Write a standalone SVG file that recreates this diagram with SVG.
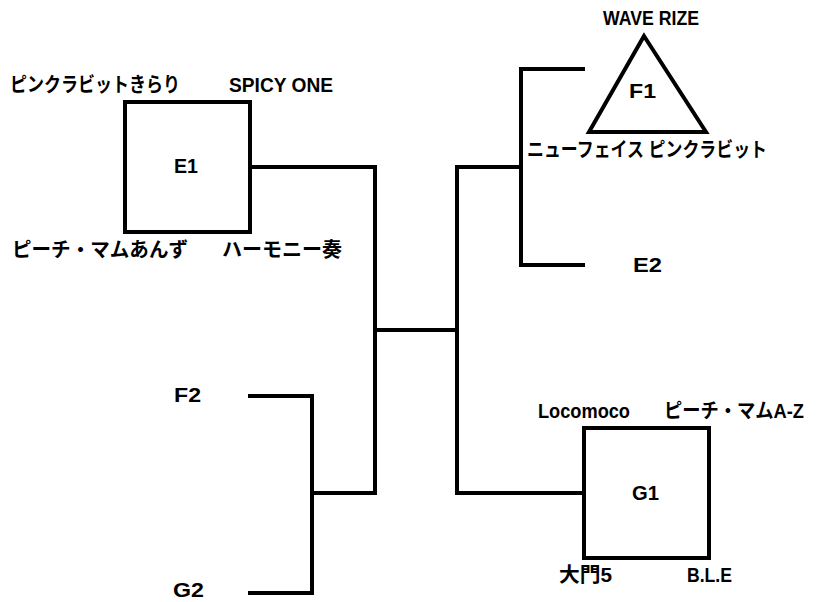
<svg xmlns="http://www.w3.org/2000/svg" width="818" height="602" viewBox="0 0 818 602">
<style>
.ln{fill:none;stroke:#000;stroke-width:4;stroke-linecap:square}
.shape{fill:#fff;stroke:#000;stroke-width:4}
text{font-family:"Liberation Sans","Noto Sans CJK JP",sans-serif;font-weight:bold;font-size:20px;fill:#000}
</style>
<rect width="818" height="602" fill="#fff"/>
<g id="connectors">
<path class="ln" d="M250,167 H375 V493 H313"/>
<path class="ln" d="M375,330 H457"/>
<path class="ln" d="M457,167 V493 H584"/>
<path class="ln" d="M457,167 H521"/>
<path class="ln" d="M583,69 H521 V265 H583"/>
<path class="ln" d="M250,396 H312 V593 H250"/>
</g>
<g id="E1">
<rect class="shape" x="125" y="102" width="125" height="130"/>
<text x="174" y="173" textLength="24" lengthAdjust="spacingAndGlyphs">E1</text>
<text x="10" y="92" textLength="170" lengthAdjust="spacingAndGlyphs">ピンクラビットきらり</text>
<text x="229" y="92" textLength="104" lengthAdjust="spacingAndGlyphs">SPICY ONE</text>
<text x="12" y="257" textLength="176" lengthAdjust="spacingAndGlyphs">ピーチ・マムあんず</text>
<text x="222" y="257" textLength="120" lengthAdjust="spacingAndGlyphs">ハーモニー奏</text>
</g>
<g id="F1">
<polygon class="shape" points="644,36 589,132 706,132" stroke-linejoin="miter"/>
<text x="629" y="98" textLength="27" lengthAdjust="spacingAndGlyphs">F1</text>
<text x="603" y="25" textLength="96" lengthAdjust="spacingAndGlyphs">WAVE RIZE</text>
<text x="527" y="157" textLength="240" lengthAdjust="spacingAndGlyphs">ニューフェイス ピンクラビット</text>
</g>
<g id="E2">
<text x="633" y="272" textLength="29" lengthAdjust="spacingAndGlyphs">E2</text>
</g>
<g id="G1">
<rect class="shape" x="584" y="428" width="125" height="130"/>
<text x="632" y="500" textLength="27" lengthAdjust="spacingAndGlyphs">G1</text>
<text x="538" y="418" textLength="92" lengthAdjust="spacingAndGlyphs">Locomoco</text>
<text x="664" y="418" font-size="18" textLength="140" lengthAdjust="spacingAndGlyphs">ピーチ・マムA-Z</text>
<text x="559" y="582" textLength="53" lengthAdjust="spacingAndGlyphs">大門5</text>
<text x="687" y="582" textLength="45" lengthAdjust="spacingAndGlyphs">B.L.E</text>
</g>
<g id="F2">
<text x="174" y="402" textLength="27" lengthAdjust="spacingAndGlyphs">F2</text>
</g>
<g id="G2">
<text x="173" y="597" textLength="31" lengthAdjust="spacingAndGlyphs">G2</text>
</g>
</svg>
